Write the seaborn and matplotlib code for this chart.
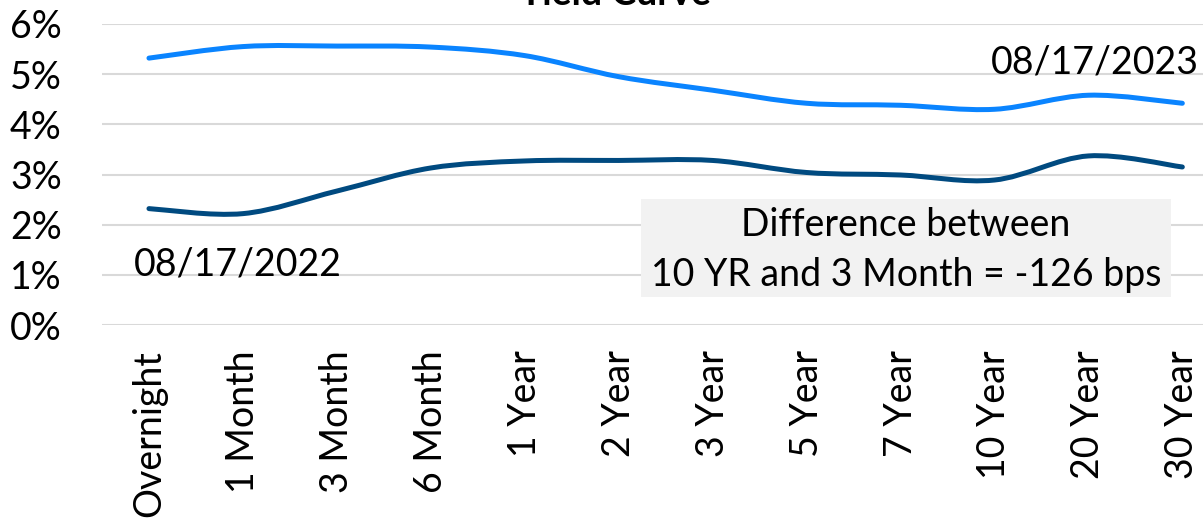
import numpy as np
import pandas as pd
import matplotlib
matplotlib.use("Agg")
import matplotlib.pyplot as plt
import seaborn as sns
from matplotlib.path import Path
from matplotlib.patches import PathPatch, Rectangle
from matplotlib.ticker import FuncFormatter

maturities = ["Overnight", "1 Month", "3 Month", "6 Month", "1 Year", "2 Year",
              "3 Year", "5 Year", "7 Year", "10 Year", "20 Year", "30 Year"]
yields_2023 = [5.32, 5.55, 5.56, 5.54, 5.37, 4.95, 4.68, 4.42, 4.38, 4.30, 4.58, 4.42]
yields_2022 = [2.32, 2.22, 2.67, 3.13, 3.27, 3.28, 3.28, 3.04, 2.99, 2.89, 3.37, 3.15]
series_names = ["08/17/2023", "08/17/2022"]
series_colors = ["#0A84FF", "#004A80"]
title = "Yield Curve"
note = "Difference between\n10 YR and 3 Month = -126 bps"

pos = np.arange(len(maturities))
df = pd.concat([
    pd.DataFrame({"pos": pos, "yield": yields_2023, "date": series_names[0]}),
    pd.DataFrame({"pos": pos, "yield": yields_2022, "date": series_names[1]}),
])

sns.set_theme(style="white")
plt.rcParams["font.family"] = ["Lato", "DejaVu Sans"]
FS = 27

fig = plt.figure(figsize=(12.03, 5.25), dpi=100)
ax = fig.add_axes([102 / 1203, 1 - 325 / 525, 1 - 102 / 1203, (325 - 24) / 525])

sns.lineplot(data=df, x="pos", y="yield", hue="date", palette=series_colors,
             hue_order=series_names, sort=False, legend=False, ax=ax, linewidth=3.6)


def smooth_path(xy):
    pts = np.asarray(xy, float)
    ext = np.vstack([pts[0], pts, pts[-1]])
    verts = [pts[0]]
    codes = [Path.MOVETO]
    for i in range(len(pts) - 1):
        p0, p1, p2, p3 = ext[i], ext[i + 1], ext[i + 2], ext[i + 3]
        c1 = p1 + (p2 - p0) / 6.0
        c2 = p2 - (p3 - p1) / 6.0
        verts += [c1, c2, p2]
        codes += [Path.CURVE4] * 3
    return Path(verts, codes)


for line in list(ax.get_lines()):
    patch = PathPatch(smooth_path(line.get_xydata()), facecolor="none",
                      edgecolor=line.get_color(), linewidth=3.6,
                      capstyle="round", joinstyle="round", zorder=3)
    ax.add_patch(patch)
    line.set_visible(False)

ax.set_ylim(0, 6)
ax.set_xlim(-0.5, 11.22)
ax.set_yticks(range(0, 7))
ax.yaxis.set_major_formatter(FuncFormatter(lambda v, p: f"{int(v)}%"))
ax.set_xticks(pos)
ax.set_xticklabels(maturities, rotation=90, va="top", ha="center")
ax.tick_params(axis="y", length=0, pad=29, labelsize=FS, colors="black")
ax.tick_params(axis="x", length=0, pad=18, labelsize=FS, colors="black")
ax.grid(axis="y", color="#D9D9D9", linewidth=1.5)
ax.grid(axis="x", visible=False)
for s in ax.spines.values():
    s.set_visible(False)
ax.set_xlabel("")
ax.set_ylabel("")
ax.set_axisbelow(True)

# annotation box
ax.add_patch(Rectangle((5.24, 0.56), 10.88 - 5.24, 2.51 - 0.56,
                       facecolor="#F2F2F2", edgecolor="none", zorder=2))
ax.text(8.06, 1.99, note.split("\n")[0], ha="center", va="center",
        fontsize=FS, color="black", zorder=4)
ax.text(8.06, 1.0, note.split("\n")[1], ha="center", va="center",
        fontsize=FS, color="black", zorder=4)

ax.text(0.95, 1.2, series_names[1], ha="center", va="center", fontsize=FS,
        color="black", zorder=4)
ax.text(11.18, 5.24, series_names[0], ha="right", va="center", fontsize=FS,
        color="black", zorder=4)

fig.text(615 / 1203, 1 - 5 / 525, title, ha="center", va="baseline",
         fontsize=FS, fontweight="bold", color="black")

fig.savefig("out.png", dpi=100)
